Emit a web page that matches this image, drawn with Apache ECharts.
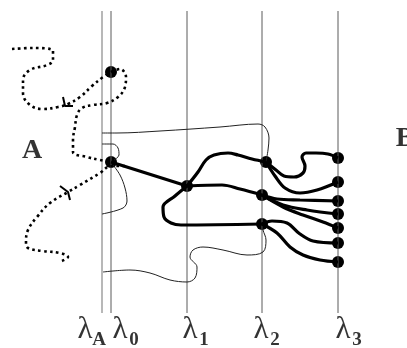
<!DOCTYPE html>
<html>
<head>
<meta charset="utf-8">
<script src="https://cdn.jsdelivr.net/npm/echarts@6.0.0/dist/echarts.min.js"></script>
<style>
  html, body { margin: 0; padding: 0; background: #fff; }
  #main { width: 407px; height: 348px; }
</style>
</head>
<body>
<div id="main"></div>
<script>
// lambda levels (x in px of the diagram plane)
const levelX = [102, 111, 187, 262, 338];
const levelSub = ['A', '0', '1', '2', '3'];
const levelLabelX = [85, 120, 190, 261, 343];
const levelTop = 11;
const levelBottom = 313;

// node dots
const nodes = [
  [111, 72], [111, 162], [187, 186],
  [266, 162], [262, 195], [262, 224],
  [338, 158], [338, 182], [338, 201], [338, 214], [338, 228], [338, 243], [338, 262]
];

// thick branch paths
const branches = [
  [[111, 162], [187, 186]],
  [[187, 186], [198, 172], [206, 160], [214, 155], [228, 153], [238, 155], [252, 159], [266, 162]],
  [[187, 186], [222, 185], [240, 189], [262, 195]],
  [[187, 186], [175, 196], [163, 207], [164, 217], [171, 223], [181, 225], [262, 224]],
  [[266, 162], [276, 170], [284, 176], [294, 177], [303, 173], [305, 166], [302, 157], [306, 153], [316, 153], [328, 154], [338, 158]],
  [[266, 162], [275, 176], [285, 188], [300, 193], [317, 190], [338, 182]],
  [[262, 195], [277, 199], [300, 200], [338, 201]],
  [[262, 195], [283, 205], [307, 210], [338, 214]],
  [[262, 195], [283, 207], [303, 215], [323, 222], [338, 228]],
  [[262, 224], [272, 221], [287, 223], [300, 234], [313, 241], [338, 243]],
  [[262, 224], [277, 233], [290, 247], [303, 255], [320, 260], [338, 262]]
];

// thin boundary curves
const boundaries = [
  [[102, 133], [117, 133], [160, 131], [220, 127], [258, 124], [265, 127], [269, 138], [268, 150], [266, 162]],
  [[102, 144], [113, 144], [118, 148], [119, 155], [114, 160]],
  [[113, 165], [120, 175], [125, 188], [127, 201], [123, 208], [102, 214]],
  [[103, 272], [130, 270], [150, 273], [170, 280], [187, 282], [195, 278], [197, 267], [190, 257], [193, 250], [203, 247], [223, 250], [247, 255], [263, 252], [266, 240], [263, 230], [262, 224]]
];

// dotted trajectories
const trails = [
  [[12, 49], [33, 48], [53, 51], [53, 60], [47, 65], [30, 70], [23, 80], [23, 93], [30, 105], [43, 109], [58, 107], [68, 104], [80, 97], [92, 86], [103, 77], [111, 72]],
  [[111, 72], [120, 69], [126, 77], [125, 87], [118, 97], [107, 103], [93, 105], [82, 108], [77, 115], [75, 127], [73, 140], [73, 152], [87, 157], [100, 160], [111, 162]],
  [[125, 166], [111, 166], [100, 173], [80, 185], [68, 192], [50, 203], [37, 217], [28, 230], [26, 242], [28, 248], [43, 251], [60, 253], [68, 257], [62, 261]]
];

// arrow marks on trails
const arrows = [
  [[63, 97], [65, 106], [73, 106]],
  [[60, 186], [68, 192], [70, 200]]
];

const sideLabels = [['A', 32, 151], ['B', 405, 139]];

const series = [];

levelX.forEach((x, i) => {
  series.push({
    type: 'line',
    data: [[x, levelTop], [x, levelBottom]],
    showSymbol: false,
    silent: true,
    lineStyle: { color: i === 0 ? '#a0a0a0' : '#5a5a5a', width: i === 0 ? 1.5 : 1 }
  });
});

boundaries.forEach(p => {
  series.push({
    type: 'line', data: p, smooth: 0.35, showSymbol: false, silent: true,
    lineStyle: { color: '#222', width: 1 }
  });
});

trails.forEach(p => {
  series.push({
    type: 'line', data: p, smooth: 0.4, showSymbol: false, silent: true,
    lineStyle: { color: '#000', width: 2.6, type: [2.6, 3.4] }
  });
});

arrows.forEach(p => {
  series.push({
    type: 'line', data: p, showSymbol: false, silent: true,
    lineStyle: { color: '#000', width: 2 }
  });
});

branches.forEach(p => {
  series.push({
    type: 'line', data: p, smooth: 0.35, showSymbol: false, silent: true,
    lineStyle: { color: '#000', width: 3.2 }
  });
});

series.push({
  type: 'scatter',
  data: nodes,
  symbolSize: 12,
  itemStyle: { color: '#000', opacity: 1 },
  silent: true
});

// lambda labels
series.push({
  type: 'scatter',
  symbolSize: 0,
  silent: true,
  data: levelLabelX.map((x, i) => ({ value: [x, 330], name: 'λ' })),
  label: {
    show: true, position: 'inside', formatter: '{b}',
    fontFamily: 'Liberation Serif', fontSize: 31, color: '#000'
  }
});
series.push({
  type: 'scatter',
  symbolSize: 0,
  silent: true,
  data: levelLabelX.map((x, i) => ({ value: [x + 14, 340], name: levelSub[i] })),
  label: {
    show: true, position: 'inside', formatter: '{b}',
    fontFamily: 'Liberation Serif', fontWeight: 'bold', fontSize: 19, color: '#000'
  }
});
series.push({
  type: 'scatter',
  symbolSize: 0,
  silent: true,
  data: sideLabels.map(d => ({ value: [d[1], d[2]], name: d[0] })),
  label: {
    show: true, position: 'inside', formatter: '{b}',
    fontFamily: 'Liberation Serif', fontWeight: 'bold', fontSize: 28, color: '#000'
  }
});

const chart = echarts.init(document.getElementById('main'));
chart.setOption({
  animation: false,
  backgroundColor: '#fff',
  grid: { left: 0, right: 0, top: 0, bottom: 0 },
  xAxis: { type: 'value', min: 0, max: 407, show: false },
  yAxis: { type: 'value', min: 0, max: 348, inverse: true, show: false },
  series: series
});
</script>
</body>
</html>
